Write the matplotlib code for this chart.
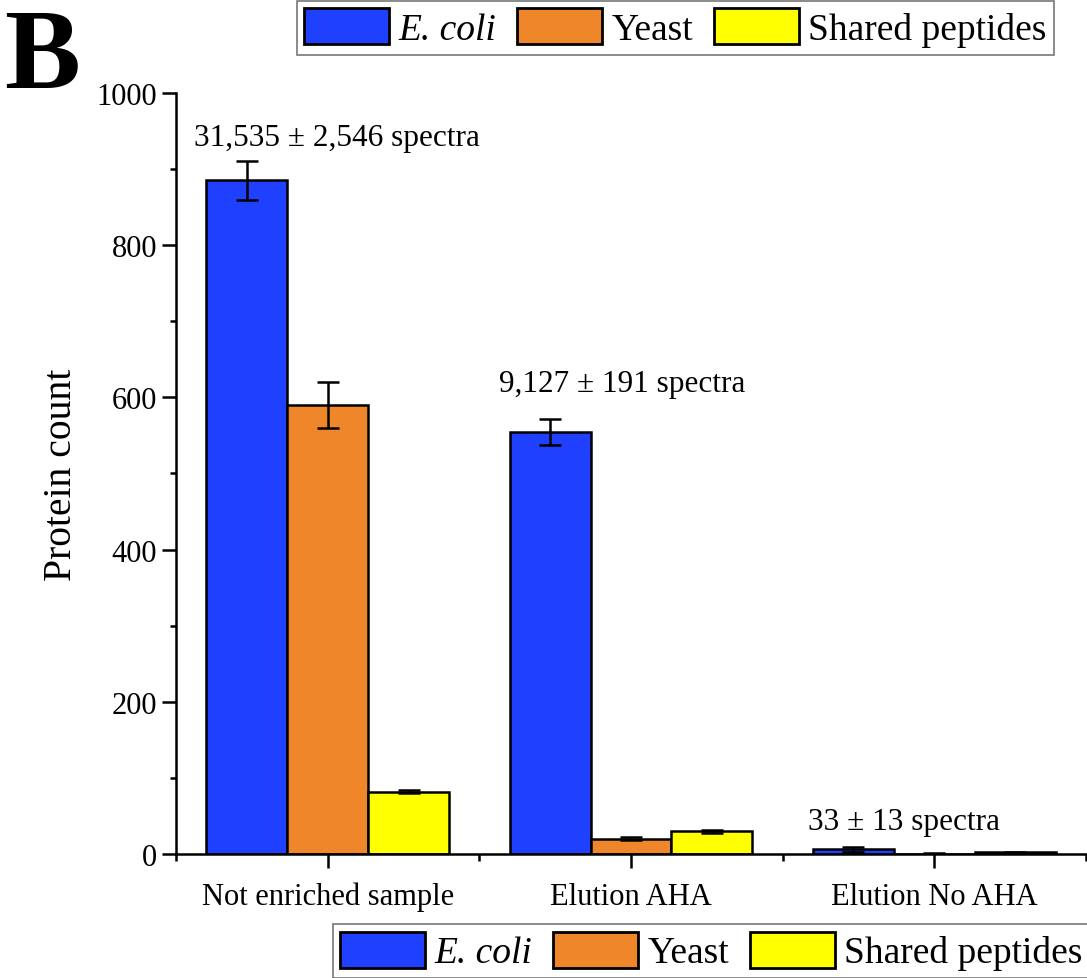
import numpy as np
import matplotlib
matplotlib.use('Agg')
import matplotlib.pyplot as plt
from matplotlib.patches import Patch

plt.rcParams['font.family'] = ['Liberation Serif', 'DejaVu Serif']

# Data
groups = ['Not enriched sample', 'Elution AHA', 'Elution No AHA']
series = ['E. coli', 'Yeast', 'Shared peptides']
ecoli = [885, 554, 6]
ecoli_err = [25, 17, 3]
yeast = [590, 20, 0.5]
yeast_err = [30, 2, 0.3]
shared = [82, 30, 2]
shared_err = [2, 2, 1]
spectra = ['31,535 ± 2,546 spectra', '9,127 ± 191 spectra', '33 ± 13 spectra']
spectra_x = [1.03, 1.97, 2.90]
spectra_y = [942, 618, 42]

colors = ['#2040FF', '#F0862A', '#FFFF00']

fig = plt.figure(figsize=(10.87, 9.79), dpi=100)
ax = fig.add_axes([0.162, 0.1267, 0.837, 0.7773])

x = np.arange(1, len(groups) + 1)
w = 0.8 / 3
vals = [ecoli, yeast, shared]
errs = [ecoli_err, yeast_err, shared_err]
for i in range(3):
    ax.bar(x + (i - 1) * w, vals[i], width=w, color=colors[i], edgecolor='black',
           linewidth=1.8, zorder=2)
    ax.errorbar(x + (i - 1) * w, vals[i], yerr=errs[i], fmt='none', ecolor='black',
                elinewidth=1.8, capsize=8, capthick=1.8, zorder=3)

for xx, txt, yy in zip(spectra_x, spectra, spectra_y):
    ax.text(xx, yy, txt, ha='center', va='center', fontsize=22.5)

ax.set_xlim(0.5, 3.5)
ax.set_ylim(0, 1000)
ax.set_xticks(x)
ax.set_xticklabels(groups, fontsize=22)
ax.set_xticks([0.5, 1.5, 2.5, 3.5], minor=True)
ax.set_yticks(np.arange(0, 1001, 200))
ax.set_yticks(np.arange(100, 1000, 200), minor=True)
ax.tick_params(axis='y', labelsize=22, width=1.8, length=10, direction='out')
ax.tick_params(axis='y', which='minor', width=1.8, length=4)
ax.tick_params(axis='x', which='major', width=1.8, length=10, pad=10)
ax.tick_params(axis='x', which='minor', width=1.8, length=5)
ax.set_ylabel('Protein count', fontsize=28.5, labelpad=12)
for s in ['top', 'right']:
    ax.spines[s].set_visible(False)
for s in ['left', 'bottom']:
    ax.spines[s].set_linewidth(1.8)

handles = [Patch(facecolor=c, edgecolor='black', linewidth=2) for c in colors]
legend_kw = dict(ncol=3, fontsize=27, frameon=True, fancybox=False,
                 handlelength=2.27, handleheight=1.1, handletextpad=0.25,
                 columnspacing=0.55, borderpad=0.2, borderaxespad=0)
for anchor, loc in [((0.273, 0.998), 'upper left'), ((0.306, 0.0), 'lower left')]:
    leg = fig.legend(handles, series, loc=loc, bbox_to_anchor=anchor, **legend_kw)
    leg.get_texts()[0].set_fontstyle('italic')
    leg.get_frame().set_edgecolor('#555555')
    leg.get_frame().set_linewidth(1.2)

fig.text(0.004, 0.992, 'B', fontsize=82, fontweight='bold', ha='left', va='top')

fig.savefig('out.png', dpi=100)
